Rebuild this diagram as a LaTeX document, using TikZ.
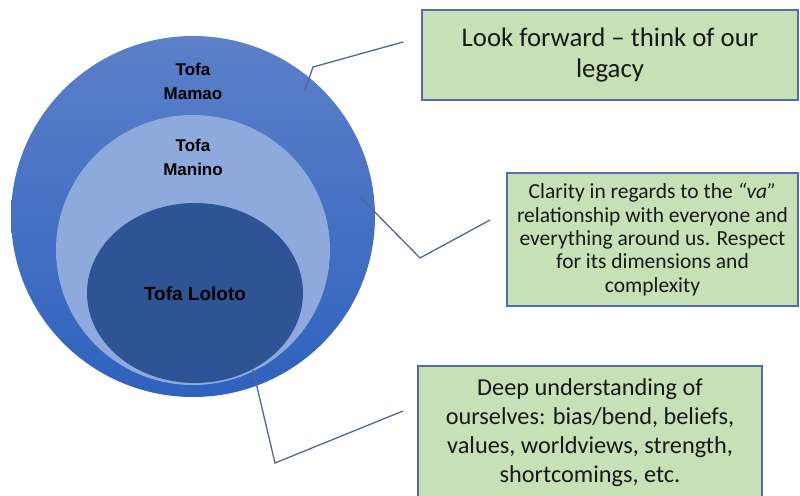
\documentclass[tikz,border=0pt]{standalone}
\usepackage{fontspec}
\setmainfont{Carlito}
\newfontfamily\labfont{Liberation Sans}
\usetikzlibrary{shapes.geometric}
\definecolor{outertop}{RGB}{92,128,201}
\definecolor{outerbot}{RGB}{47,98,190}
\definecolor{midc}{RGB}{142,169,219}
\definecolor{innc}{RGB}{47,84,150}
\definecolor{boxfill}{RGB}{199,224,181}
\definecolor{boxline}{RGB}{84,110,165}
\definecolor{connc}{RGB}{82,102,150}
\tikzset{
  ring/.style={ellipse, draw=none, inner sep=0pt},
  lab/.style={font=\labfont\bfseries\fontsize{17}{24}\selectfont, align=center, text=black, inner sep=0pt},
  labbig/.style={font=\labfont\bfseries\fontsize{19}{24}\selectfont, align=center, text=black, inner sep=0pt},
  box/.style={rectangle, draw=boxline, fill=boxfill, line width=1.3pt, align=center, inner sep=0pt, text=black!90},
  conn/.style={draw=connc, line width=1.3pt, line join=miter}
}
\begin{document}
\begin{tikzpicture}[x=1pt,y=-1pt]
\useasboundingbox (0,0) rectangle (800,495);
\clip (0,0) rectangle (800,495);
\fill[white] (0,0) rectangle (800,495);
% circles
\node[ring, minimum width=364pt, minimum height=361pt, top color=outertop, bottom color=outerbot] (outer) at (193,216.5) {};
\node[ring, minimum width=274pt, minimum height=270pt, fill=midc] (mid) at (193,250) {};
\node[ring, minimum width=216pt, minimum height=180pt, fill=innc] (inner) at (195,293) {};
% labels
\node[lab] (mamao) at (193,81) {Tofa\\Mamao};
\node[lab] (manino) at (193,157) {Tofa\\Manino};
\node[labbig] (loloto) at (195,294) {Tofa Loloto};
% boxes
\node[box, minimum width=376pt, minimum height=90pt, font=\fontsize{26.8}{31}\selectfont] (b1) at (610,55) {Look forward -- think of our\\legacy};
\node[box, minimum width=291pt, minimum height=133pt, font=\fontsize{21.5}{23.3}\selectfont] (b2) at (652.5,239.5) {Clarity in regards to the \textit{“va”}\\relationship with everyone and\\everything around us. Respect\\for its dimensions and\\complexity};
\node[box, minimum width=344pt, minimum height=134pt, font=\fontsize{24.3}{29}\selectfont] (b3) at (590,433) {Deep understanding of\\ourselves: bias/bend, beliefs,\\values, worldviews, strength,\\shortcomings, etc.};
% connectors
\coordinate (p1) at (305,90);
\coordinate (k1) at (313,67);
\coordinate (e1) at (403,42);
\draw[conn] (p1) -- (k1) -- (e1);
\coordinate (p2) at (361,198);
\coordinate (k2) at (420,258);
\coordinate (e2) at (490,220);
\draw[conn] (p2) -- (k2) -- (e2);
\coordinate (p3) at (253,370);
\coordinate (k3) at (275,463);
\coordinate (e3) at (403,411);
\draw[conn] (p3) -- (k3) -- (e3);
\end{tikzpicture}
\end{document}
